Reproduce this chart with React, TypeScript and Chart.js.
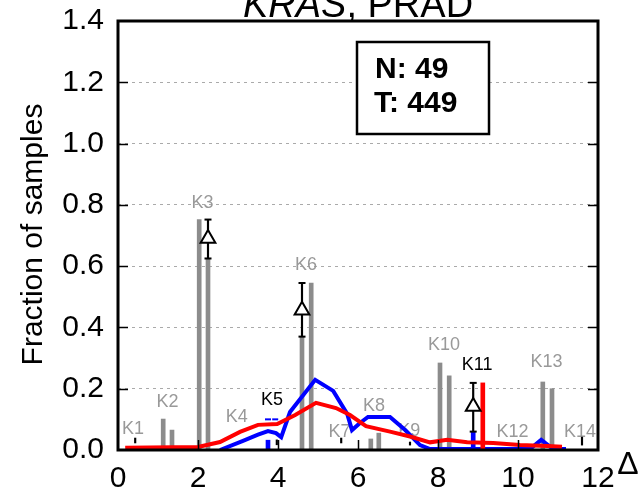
import React, { useEffect, useRef } from 'react';
import { Chart, registerables } from 'chart.js';

Chart.register(...registerables);

const FONT = '"Liberation Sans", Arial, Helvetica, sans-serif';

// ---- texts ----
const titleGene = 'KRAS';
const titleRest = ', PRAD';
const yAxisTitle = 'Fraction of samples';
const xAxisTitle = 'Δ';
const statLines = ['N: 49', 'T: 449'];

// ---- axes ----
const yMin = 0;
const yMax = 1.4;
const yStep = 0.2;
const xMin = 0;
const xMax = 12;
const xStep = 2;

// ---- gray bar pairs ----
const grayBarX = [1.13, 1.35, 2.03, 2.25, 4.6, 4.83, 6.32, 6.52, 8.05, 8.28, 10.62, 10.85];
const grayBarY = [0.101, 0.065, 0.752, 0.625, 0.37, 0.545, 0.036, 0.055, 0.284, 0.242, 0.222, 0.2];

// ---- coloured bars ----
const redBarX = [9.12];
const redBarY = [0.219];
const blueBarX = [3.75, 8.88];
const blueBarY = [0.032, 0.06];

// ---- delta markers with error bars ----
const errX = [2.25, 4.6, 8.88];
const errLow = [0.625, 0.37, 0.06];
const errHigh = [0.752, 0.545, 0.219];
const deltaY = [0.69, 0.456, 0.142];

// ---- tiny error ticks ----
const tickErrX = [0.43, 3.97, 5.58, 7.3, 11.6];
const tickErrLow = [0.023, 0.017, 0.023, 0.016, 0.016];
const tickErrHigh = [0.039, 0.033, 0.039, 0.026, 0.042];

// ---- K5 caps ----
const k5CapX = [3.75, 3.93];
const k5CapY = [0.1, 0.1];

// ---- blue line ----
const blueX = [2.55, 3.125, 3.5, 3.75, 3.95, 4.08, 4.3, 4.93, 5.38, 5.73, 5.85, 6.05, 6.25, 6.8, 7.18, 7.55, 7.8, 10.3, 10.58, 10.88, 11.2];
const blueY = [0.0, 0.03, 0.05, 0.062, 0.055, 0.042, 0.124, 0.229, 0.193, 0.118, 0.065, 0.088, 0.108, 0.108, 0.065, 0.016, 0.003, 0.003, 0.033, 0.003, 0.003];

// ---- red line ----
const redX = [0.18, 2.0, 2.55, 3.05, 3.5, 3.98, 4.43, 4.95, 5.45, 5.8, 6.2, 6.8, 7.3, 7.8, 8.23, 8.73, 9.38, 10.05, 10.73, 11.1];
const redY = [0.007, 0.01, 0.026, 0.059, 0.082, 0.085, 0.114, 0.154, 0.137, 0.114, 0.078, 0.06, 0.044, 0.025, 0.033, 0.025, 0.023, 0.016, 0.013, 0.011];

// ---- K labels ----
const kLabels = ['K1', 'K2', 'K3', 'K4', 'K5', 'K6', 'K7', 'K8', 'K9', 'K10', 'K11', 'K12', 'K13', 'K14'];
const kLabelX = [0.375, 1.24, 2.11, 2.97, 3.85, 4.7, 5.54, 6.4, 7.28, 8.15, 8.98, 9.86, 10.71, 11.55];
const kLabelY = [0.069, 0.157, 0.807, 0.106, 0.162, 0.605, 0.06, 0.142, 0.062, 0.343, 0.278, 0.06, 0.286, 0.06];
const kHighlighted = ['K5', 'K11'];

const pts = (xs: number[], ys: number[]) => xs.map((x, i) => ({ x, y: ys[i] }));
const ranges = (xs: number[], lo: number[], hi: number[]) => xs.map((x, i) => ({ x, y: [lo[i], hi[i]] }));

const labelsPlugin = {
  id: 'kLabels',
  beforeDatasetsDraw(chart: any) {
    const { ctx, scales } = chart;
    ctx.save();
    ctx.font = `18px ${FONT}`;
    ctx.textAlign = 'center';
    ctx.textBaseline = 'middle';
    kLabels.forEach((t, i) => {
      ctx.fillStyle = kHighlighted.includes(t) ? '#000000' : '#999999';
      ctx.fillText(t, scales.x.getPixelForValue(kLabelX[i]), scales.y.getPixelForValue(kLabelY[i]));
    });
    ctx.restore();
  },
};

const framePlugin = {
  id: 'frame',
  afterDatasetsDraw(chart: any) {
    const { ctx, chartArea: ca, scales } = chart;
    ctx.save();
    ctx.strokeStyle = '#000';
    ctx.lineWidth = 1.5;
    ctx.beginPath();
    for (let v = yMin + yStep; v < yMax - 1e-6; v += yStep) {
      const py = Math.round(scales.y.getPixelForValue(v)) + 0.5;
      ctx.moveTo(ca.left, py);
      ctx.lineTo(ca.left + 10, py);
      ctx.moveTo(ca.right - 10, py);
      ctx.lineTo(ca.right, py);
    }
    for (let v = xMin + xStep; v < xMax - 1e-6; v += xStep) {
      const px = Math.round(scales.x.getPixelForValue(v)) + 0.5;
      ctx.moveTo(px, ca.bottom);
      ctx.lineTo(px, ca.bottom - 10);
    }
    ctx.stroke();
    ctx.lineWidth = 3;
    ctx.strokeRect(ca.left, ca.top, ca.right - ca.left, ca.bottom - ca.top);
    const bx = ca.left + 239;
    const by = ca.top + 21;
    ctx.lineWidth = 2.5;
    ctx.fillStyle = '#fff';
    ctx.fillRect(bx, by, 132, 92);
    ctx.strokeRect(bx, by, 132, 92);
    ctx.fillStyle = '#000';
    ctx.font = `bold 30px ${FONT}`;
    ctx.textAlign = 'left';
    ctx.textBaseline = 'alphabetic';
    ctx.fillText(statLines[0], bx + 18, by + 36);
    ctx.fillText(statLines[1], bx + 17, by + 70);
    ctx.restore();
  },
  afterDraw(chart: any) {
    const { ctx, chartArea: ca } = chart;
    ctx.save();
    ctx.fillStyle = '#000';
    ctx.textBaseline = 'alphabetic';
    ctx.textAlign = 'left';
    ctx.font = `italic 38px ${FONT}`;
    const w1 = ctx.measureText(titleGene).width;
    ctx.font = `38px ${FONT}`;
    const w2 = ctx.measureText(titleRest).width;
    const cx = (ca.left + ca.right) / 2;
    const sx = cx - (w1 + w2) / 2;
    ctx.font = `italic 38px ${FONT}`;
    ctx.fillText(titleGene, sx, 17);
    ctx.font = `38px ${FONT}`;
    ctx.fillText(titleRest, sx + w1, 17);
    ctx.save();
    ctx.translate(42, (ca.top + ca.bottom) / 2 - 1);
    ctx.rotate(-Math.PI / 2);
    ctx.font = `30px ${FONT}`;
    ctx.textAlign = 'center';
    ctx.textBaseline = 'alphabetic';
    ctx.fillText(yAxisTitle, 0, 0);
    ctx.restore();
    ctx.font = `32px ${FONT}`;
    ctx.textAlign = 'center';
    ctx.textBaseline = 'alphabetic';
    ctx.fillText(xAxisTitle, ca.right + 30, ca.bottom + 24);
    ctx.restore();
  },
};

export default function App() {
  const ref = useRef<HTMLCanvasElement | null>(null);
  useEffect(() => {
    document.body.style.margin = '0';
    const canvas = ref.current;
    if (!canvas) return;
    const barCommon = { grouped: false, barThickness: 4, borderWidth: 0 };
    const chart = new Chart(canvas, {
      type: 'bar',
      data: {
        datasets: [
          { type: 'bar', data: pts(grayBarX, grayBarY), backgroundColor: '#8c8c8c', order: 20, ...barCommon } as any,
          { type: 'bar', data: pts(blueBarX, blueBarY), backgroundColor: '#0000ff', order: 19, ...barCommon } as any,
          {
            type: 'line', data: pts(blueX, blueY), borderColor: '#0000ff', borderWidth: 4,
            pointRadius: 0, tension: 0, fill: false, order: 18,
          } as any,
          { type: 'bar', data: pts(redBarX, redBarY), backgroundColor: '#ff0000', order: 17, ...barCommon } as any,
          {
            type: 'line', data: pts(redX, redY), borderColor: '#ff0000', borderWidth: 4,
            pointRadius: 0, tension: 0, fill: false, order: 16,
          } as any,
          {
            type: 'bar', data: ranges(tickErrX, tickErrLow, tickErrHigh), backgroundColor: '#000000',
            grouped: false, barThickness: 1.5, borderWidth: 0, order: 15,
          } as any,
          {
            type: 'bar', data: ranges(errX, errLow, errHigh), backgroundColor: '#000000',
            grouped: false, barThickness: 1.5, borderWidth: 0, order: 14,
          } as any,
          {
            type: 'scatter', data: [...pts(errX, errLow), ...pts(errX, errHigh)], pointStyle: 'line',
            radius: 3.5, borderColor: '#000000', borderWidth: 2, order: 13,
          } as any,
          {
            type: 'scatter', data: pts(k5CapX, k5CapY), pointStyle: 'line',
            radius: 3, borderColor: '#0000ff', borderWidth: 2, order: 12,
          } as any,
          {
            type: 'scatter', data: pts(errX, deltaY), pointStyle: 'triangle', radius: 8.5,
            backgroundColor: '#ffffff', borderColor: '#000000', borderWidth: 2, order: 11,
          } as any,
        ],
      },
      options: {
        animation: false,
        responsive: false,
        devicePixelRatio: 1,
        events: [],
        layout: { padding: { left: 0, top: 21, right: 45, bottom: 0 } },
        plugins: { legend: { display: false }, tooltip: { enabled: false }, title: { display: false } },
        scales: {
          x: {
            type: 'linear',
            min: xMin,
            max: xMax,
            offset: false,
            afterFit: (s: any) => {
              s.height = 37;
              s.paddingLeft = 0; s.paddingRight = 0; s.paddingTop = 0; s.paddingBottom = 0;
            },
            border: { display: false },
            grid: { display: false, drawTicks: false },
            ticks: {
              stepSize: xStep,
              padding: 11,
              color: '#000',
              font: { family: FONT, size: 30 },
              callback: (v: any) => String(v),
              maxRotation: 0,
              autoSkip: false,
            },
          },
          y: {
            type: 'linear',
            min: yMin,
            max: yMax,
            afterFit: (s: any) => {
              s.width = 118;
              s.paddingLeft = 0; s.paddingRight = 0; s.paddingTop = 0; s.paddingBottom = 0;
            },
            border: { display: false, dash: [3, 4] },
            grid: { color: '#aaaaaa', lineWidth: 1, drawTicks: false },
            ticks: {
              stepSize: yStep,
              padding: 14,
              color: '#000',
              font: { family: FONT, size: 30 },
              callback: (v: any) => Number(v).toFixed(1),
            },
          },
        },
      },
      plugins: [labelsPlugin, framePlugin],
    } as any);
    return () => chart.destroy();
  }, []);
  return (
    <div style={{ position: 'fixed', left: 0, top: 0, width: 643, height: 487, background: '#fff' }}>
      <canvas ref={ref} width={643} height={487} />
    </div>
  );
}
